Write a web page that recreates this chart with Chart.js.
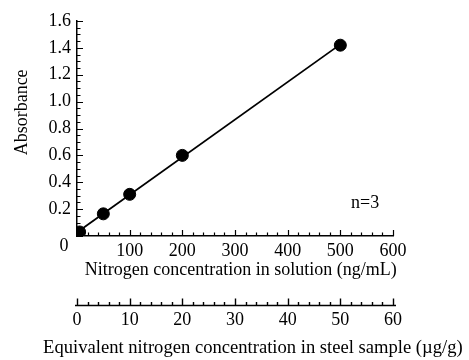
<!DOCTYPE html>
<html>
<head>
<meta charset="utf-8">
<script src="https://cdn.jsdelivr.net/npm/chart.js@4/dist/chart.umd.min.js"></script>
<style>
html,body{margin:0;padding:0;background:#fff;}
#wrap{width:469px;height:360px;position:relative;}
</style>
</head>
<body>
<div id="wrap"><canvas id="c"></canvas></div>
<script>
// ---- data ----
const nitrogenSolution = [5, 50, 100, 200, 500];          // ng/mL
const absorbance       = [0.03, 0.165, 0.31, 0.60, 1.42];
const xTicksSolution   = [100, 200, 300, 400, 500, 600];
const xTicksSteel      = [0, 10, 20, 30, 40, 50, 60];
const yTicks           = [0.2, 0.4, 0.6, 0.8, 1.0, 1.2, 1.4, 1.6];
const xTitle  = 'Nitrogen concentration in solution (ng/mL)';
const x2Title = 'Equivalent nitrogen concentration in steel sample (\u00B5g/g)';
const yTitle  = 'Absorbance';
const originLabel = '0';
const annotationText = 'n=3';
const annotationAt = [547, 0.245];

// least-squares calibration line from the data
const n = nitrogenSolution.length;
const mx = nitrogenSolution.reduce((a,b)=>a+b,0)/n;
const my = absorbance.reduce((a,b)=>a+b,0)/n;
let sxy=0,sxx=0;
for(let i=0;i<n;i++){sxy+=(nitrogenSolution[i]-mx)*(absorbance[i]-my);sxx+=(nitrogenSolution[i]-mx)**2;}
const slope=sxy/sxx, icpt=my-slope*mx;
const xmin=Math.min(...nitrogenSolution), xmax=Math.max(...nitrogenSolution);
const fitLine=[{x:xmin,y:icpt+slope*xmin},{x:xmax,y:icpt+slope*xmax}];

const FONT='"Liberation Serif", "Times New Roman", serif';

const axisDecor = {
  id:'axisDecor',
  afterDraw(chart){
    const {ctx, chartArea:ca, scales} = chart;
    const xs=scales.x, ys=scales.y, x2=scales.x2;
    ctx.save();
    ctx.strokeStyle='#000';
    ctx.lineWidth=1.2;
    ctx.beginPath();
    // y inward ticks
    for(let k=0;k<=32;k++){
      const v=k*0.05, py=Math.round(ys.getPixelForValue(v))+0.5;
      const len = (k%4===0)?6:3.5;
      ctx.moveTo(ca.left, py); ctx.lineTo(ca.left+len, py);
    }
    // x inward ticks
    for(let k=0;k<=30;k++){
      const v=k*20, px=Math.round(xs.getPixelForValue(v))+0.5;
      const len=(k%5===0)?6:3.5;
      ctx.moveTo(px, ca.bottom); ctx.lineTo(px, ca.bottom-len);
    }
    ctx.stroke();
    // secondary axis line & ticks
    const ly = Math.round(x2.top+24)+0.5;
    ctx.lineWidth=1.4;
    ctx.beginPath();
    ctx.moveTo(x2.left-2, ly); ctx.lineTo(x2.right+3, ly);
    for(let k=0;k<=30;k++){
      const v=k*2, px=Math.round(x2.getPixelForValue(v))+0.5;
      const len=(k%5===0)?7:3.5;
      ctx.moveTo(px, ly); ctx.lineTo(px, ly-len);
    }
    ctx.stroke();
    ctx.fillStyle='#000';
    ctx.textAlign='center'; ctx.textBaseline='middle';
    ctx.font='18px '+FONT;
    // annotation
    ctx.fillText(annotationText, xs.getPixelForValue(annotationAt[0]), ys.getPixelForValue(annotationAt[1]));
    // shared origin label
    ctx.fillText(originLabel, ca.left-13, ca.bottom+10);
    // primary x title
    ctx.fillText(xTitle, xs.getPixelForValue(311), ca.bottom+34);
    // secondary title
    ctx.font='18.6px '+FONT;
    ctx.fillText(x2Title, x2.getPixelForValue(33.4), x2.bottom-12);
    // y title
    ctx.font='18px '+FONT;
    ctx.translate(22, ys.getPixelForValue(0.92));
    ctx.rotate(-Math.PI/2);
    ctx.fillText(yTitle, 0, 0);
    ctx.restore();
  }
};

new Chart(document.getElementById('c'), {
  type:'scatter',
  data:{
    datasets:[
      {data:fitLine, showLine:true, borderColor:'#000', borderWidth:1.8, pointRadius:0, order:2},
      {data:nitrogenSolution.map((x,i)=>({x, y:absorbance[i]})), backgroundColor:'#000', borderColor:'#000', pointRadius:6, pointHoverRadius:6, showLine:false, order:1}
    ]
  },
  options:{
    responsive:true, maintainAspectRatio:false, animation:false,
    layout:{padding:{left:0, right:76, top:21, bottom:0}},
    plugins:{legend:{display:false}, tooltip:{enabled:false}},
    scales:{
      x:{
        type:'linear', position:'bottom', min:0, max:600,
        afterBuildTicks:s=>{ s.ticks = [0].concat(xTicksSolution).map(v=>({value:v})); },
        afterFit:s=>{ s.height=45; },
        grid:{display:false, drawTicks:false},
        border:{display:true, color:'#000', width:1.5},
        ticks:{color:'#000', padding:4, font:{family:FONT, size:18},
          callback:v=> v===0 ? '' : String(v)},
        title:{display:false}
      },
      x2:{
        type:'linear', position:'bottom', min:0, max:60,
        afterBuildTicks:s=>{ s.ticks = xTicksSteel.map(v=>({value:v})); },
        afterFit:s=>{ s.height=79; },
        grid:{display:false, drawTicks:false},
        border:{display:false},
        ticks:{color:'#000', padding:28, font:{family:FONT, size:18}},
        title:{display:false}
      },
      y:{
        min:0, max:1.6,
        afterBuildTicks:s=>{ s.ticks = yTicks.map(v=>({value:v})); },
        afterFit:s=>{ s.width=77; },
        grid:{display:false, drawTicks:false},
        border:{display:true, color:'#000', width:1.5},
        ticks:{color:'#000', padding:6, font:{family:FONT, size:18},
          callback:v=> v.toFixed(1)},
        title:{display:false}
      }
    }
  },
  plugins:[axisDecor]
});
</script>
</body>
</html>
